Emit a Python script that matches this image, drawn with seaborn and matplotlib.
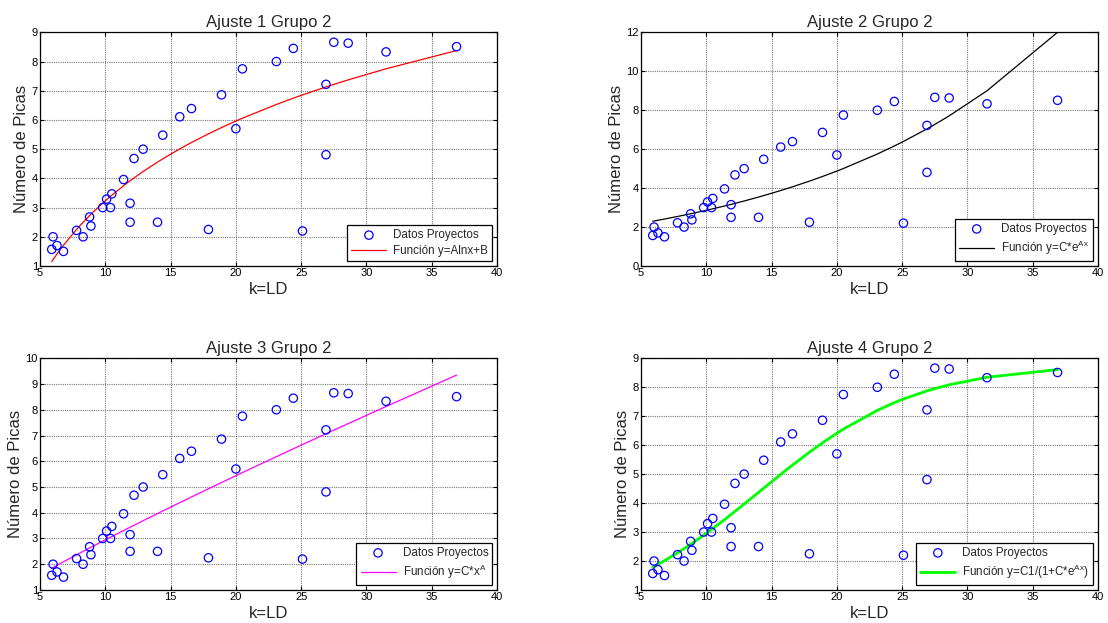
import numpy as np
import pandas as pd
import matplotlib
matplotlib.use("Agg")
import matplotlib.pyplot as plt
import seaborn as sns

# ---- data ----
k_ld = [6.0, 5.9, 6.3, 6.8, 7.8, 8.3, 8.8, 8.9, 9.8, 10.1, 10.4, 10.5, 11.4, 11.9, 11.9,
        12.2, 12.9, 14.0, 14.4, 15.7, 16.6, 17.9, 18.9, 20.0, 20.5, 23.1, 24.4, 25.1,
        26.9, 26.9, 27.5, 28.6, 31.5, 36.9]
picas = [2.0, 1.57, 1.70, 1.50, 2.22, 2.0, 2.68, 2.37, 3.0, 3.29, 3.0, 3.47, 3.96, 3.15, 2.50,
         4.68, 5.0, 2.50, 5.48, 6.11, 6.39, 2.25, 6.86, 5.70, 7.75, 8.0, 8.45, 2.20,
         7.22, 4.81, 8.66, 8.63, 8.33, 8.51]

titles = ["Ajuste 1 Grupo 2", "Ajuste 2 Grupo 2", "Ajuste 3 Grupo 2", "Ajuste 4 Grupo 2"]
fit_labels = ["Función y=Alnx+B", r"Función y=C*e$^{Ax}$",
              r"Función y=C*x$^{A}$", r"Función y=C1/(1+C*e$^{Ax}$)"]
fit_colors = ["#ff0000", "#000000", "#ff00ff", "#00ff00"]
fit_widths = [0.9, 0.9, 0.9, 2.0]
y_limits = [(1, 9), (0, 12), (1, 10), (1, 9)]
y_steps = [1, 2, 1, 1]
x_ticks = [5, 10, 15, 20, 25, 30, 35, 40]

# fitted parameters (estimated from the drawn curves)
fit1_A, fit1_B = 3.94, -5.84
fit2_C, fit2_A = 1.679, 0.0533
fit3_C, fit3_A = 0.385, 0.884
fit4_C1, fit4_C, fit4_A = 8.8, 10.5, -0.167

xs = np.unique(np.array(k_ld))
curves = [
    fit1_A * np.log(xs) + fit1_B,
    fit2_C * np.exp(fit2_A * xs),
    fit3_C * xs ** fit3_A,
    fit4_C1 / (1 + fit4_C * np.exp(fit4_A * xs)),
]

sns.set_theme(style="white")
plt.rcParams["font.family"] = ["Liberation Sans", "DejaVu Sans"]
plt.rcParams["mathtext.fontset"] = "custom"
plt.rcParams["mathtext.rm"] = "Liberation Sans"
plt.rcParams["mathtext.it"] = "Liberation Sans"
plt.rcParams["axes.linewidth"] = 0.9
plt.rcParams["axes.edgecolor"] = "black"

fig = plt.figure(figsize=(11.08, 6.23), dpi=100)
positions = [
    [0.0361, 0.5730, 0.4125, 0.3751],
    [0.5785, 0.5730, 0.4125, 0.3751],
    [0.0361, 0.0530, 0.4125, 0.3719],
    [0.5785, 0.0530, 0.4125, 0.3719],
]

df = pd.DataFrame({"k": k_ld, "p": picas})

for i in range(4):
    ax = fig.add_axes(positions[i])
    sns.scatterplot(data=df, x="k", y="p", ax=ax, marker="o", s=36,
                    color="#0000ff", facecolor="none", edgecolor="#0000ff",
                    linewidth=0.9, label="Datos Proyectos", zorder=3)
    cdf = pd.DataFrame({"k": xs, "y": curves[i]})
    sns.lineplot(data=cdf, x="k", y="y", ax=ax, estimator=None, sort=True,
                 color=fit_colors[i], linewidth=fit_widths[i], label=fit_labels[i],
                 zorder=2)
    ax.set_xlim(5, 40)
    ax.set_ylim(*y_limits[i])
    ax.set_xticks(x_ticks)
    lo, hi = y_limits[i]
    ax.set_yticks(np.arange(lo, hi + 0.01, y_steps[i]))
    ax.grid(True, linestyle=(0, (1, 1)), color="#777777", linewidth=0.8)
    ax.tick_params(direction="in", length=3, width=0.8, top=True, right=True,
                   bottom=True, left=True, labelsize=8, pad=1.5, colors="black")
    for sp in ax.spines.values():
        sp.set_visible(True)
        sp.set_color("black")
    ax.set_title(titles[i], fontsize=12, pad=4)
    ax.set_xlabel("k=LD", fontsize=12, labelpad=2.5)
    ax.set_ylabel("Número de Picas", fontsize=12, labelpad=2)
    leg = ax.legend(loc="lower right", fontsize=8.4, frameon=True, fancybox=False,
                    edgecolor="black", framealpha=1, borderaxespad=0.4,
                    handlelength=3.0, handletextpad=0.6, borderpad=0.35,
                    labelspacing=0.35, scatterpoints=1)
    leg.get_frame().set_linewidth(0.9)

fig.savefig("out.png", dpi=100)
